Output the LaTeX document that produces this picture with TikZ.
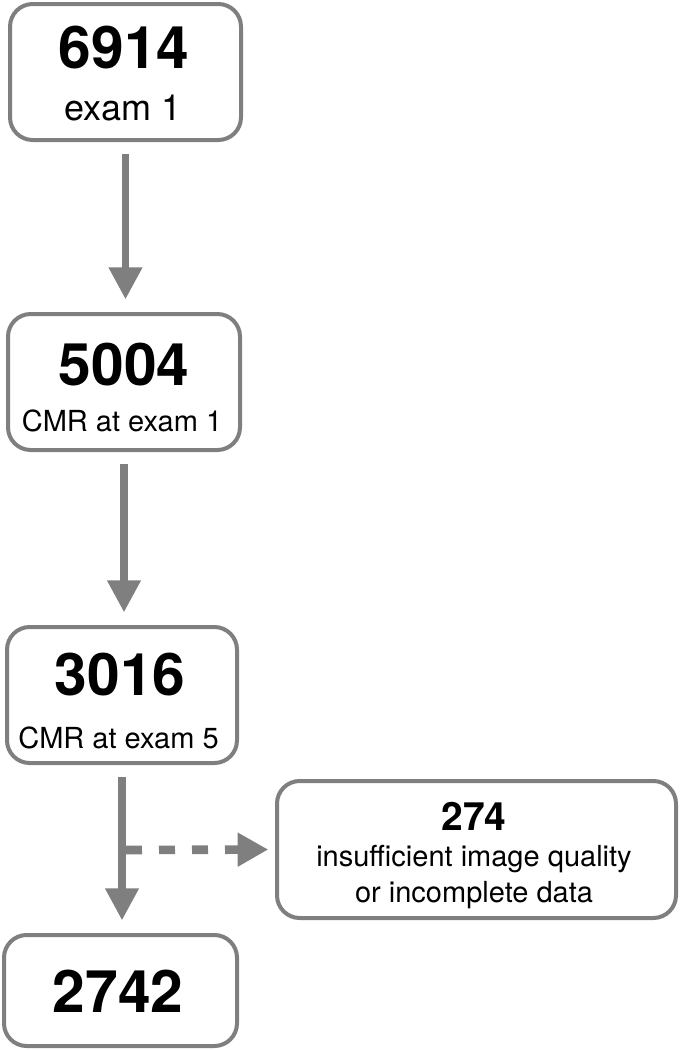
\documentclass[tikz,border=0pt]{standalone}
\usepackage{fontspec}
\setmainfont{TeX Gyre Heros}
\usetikzlibrary{arrows.meta}
\definecolor{linegray}{HTML}{7F7F7F}
\definecolor{arrowgray}{HTML}{7F7F7F}
\begin{document}
\begin{tikzpicture}[x=0.75pt,y=-0.75pt,
  box/.style={draw=linegray,line width=3pt,rounded corners=17pt,fill=white,inner sep=0pt},
  big/.style={font=\fontsize{44}{44}\selectfont\bfseries,anchor=base,inner sep=0pt},
  mid/.style={font=\fontsize{29.25}{30}\selectfont\bfseries,anchor=base,inner sep=0pt},
  sub/.style={font=\fontsize{21.75}{22}\selectfont,anchor=base,inner sep=0pt},
  subl/.style={font=\fontsize{27}{28}\selectfont,anchor=base,inner sep=0pt},
  flow/.style={draw=arrowgray,line width=5.5pt,-{Triangle[width=24pt,length=24pt]},shorten <=9pt,shorten >=9.5pt},
  dflow/.style={draw=arrowgray,line width=6.5pt,dash pattern=on 12pt off 12.75pt,-{Triangle[width=24pt,length=23pt]},shorten >=5pt},
]
\useasboundingbox (0,0) rectangle (680,1050);
% boxes
\node[box,minimum width=231*0.75pt,minimum height=136*0.75pt] (b1) at (125.5,72) {};
\node[box,minimum width=232*0.75pt,minimum height=136*0.75pt] (b2) at (124,382) {};
\node[box,minimum width=230*0.75pt,minimum height=136*0.75pt] (b3) at (122,695) {};
\node[box,minimum width=233*0.75pt,minimum height=111*0.75pt] (b4) at (120.5,990.5) {};
\node[box,minimum width=399*0.75pt,minimum height=137*0.75pt] (d) at (476.5,849.5) {};
% texts
\node[big] (t1a) at (124,68) {6914};
\node[subl] (t1b) at (123,120) {exam 1};
\node[big] (t2a) at (124,385) {5004};
\node[sub] (t2b) at (122,431) {CMR at exam 1};
\node[big] (t3a) at (120,695) {3016};
\node[sub] (t3b) at (118.5,748) {CMR at exam 5};
\node[big] (t4a) at (118,1012) {2742};
\node[mid] (tda) at (474,830) {274};
\node[sub] (tdb) at (474,866) {insufficient image quality};
\node[sub] (tdc) at (474,902) {or incomplete data};
% connectors
\draw[flow] (b1.south) -- (b1.south |- b2.north);
\draw[flow] (b2.south) -- (b2.south |- b3.north);
\draw[flow] (b3.south) -- (b3.south |- b4.north);
\coordinate (j) at (126,850);
\draw[dflow] (j) -- (d.west);
\end{tikzpicture}
\end{document}
